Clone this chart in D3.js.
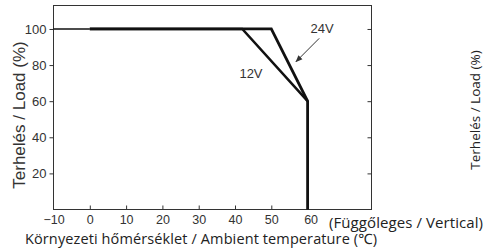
<!DOCTYPE html>
<html><head><meta charset="utf-8">
<script src="https://cdn.jsdelivr.net/npm/d3@7"></script>
<style>html,body{margin:0;padding:0;background:#fff;overflow:hidden}</style>
</head><body>
<svg id="c" width="485" height="248"></svg>
<script>
const xTicks = [-10, 0, 10, 20, 30, 40, 50, 60];
const xTickLabels = ["\u221210", "0", "10", "20", "30", "40", "50", "60"];
const yTicks = [20, 40, 60, 80, 100];
const baseTemp = [-10, 0];
const baseLoad = [100, 100];
const temp24 = [0, 50, 60, 60];
const load24 = [100, 100, 60, 0];
const temp12 = [0, 42, 60];
const load12 = [100, 100, 60];
const xLabel = "Környezeti hőmérséklet / Ambient temperature (℃)";
const yLabel = "Terhelés / Load (%)";
const orientNote = "(Függőleges / Vertical)";

const svg = d3.select("#c");
const L = 53.5, R = 371.5, T = 5.5, B = 209.5;
const x = d3.scaleLinear().domain([-10, 77.6]).range([L, R]);
const y = d3.scaleLinear().domain([0, 113]).range([B, T]);
const axisCol = "#333";
const tickFont = "'Liberation Sans', Arial, sans-serif";
const labFont = "'Open Sans', 'Noto Sans', sans-serif";

// frame
svg.append("rect").attr("x", L).attr("y", T).attr("width", R - L).attr("height", B - T)
  .attr("fill", "none").attr("stroke", axisCol).attr("stroke-width", 1);

// left axis (outward ticks)
const gl = svg.append("g").attr("transform", `translate(${L},0)`)
  .call(d3.axisLeft(y).tickValues(yTicks).tickSize(4).tickPadding(3));
// right axis (inward ticks)
const gr = svg.append("g").attr("transform", `translate(${R},0)`)
  .call(d3.axisLeft(y).tickValues(yTicks).tickSize(4).tickFormat(""));
// bottom axis (inward ticks)
const gb = svg.append("g").attr("transform", `translate(0,${B})`)
  .call(d3.axisTop(x).tickValues(xTicks.filter(v => v > -10)).tickSize(4).tickFormat(""));
const gbl = svg.append("g").attr("transform", `translate(0,${B})`)
  .call(d3.axisBottom(x).tickValues(xTicks).tickSize(0).tickPadding(6)
    .tickFormat((d, i) => xTickLabels[i]));
[gl, gr, gb, gbl].forEach(g => {
  g.select(".domain").remove();
  g.selectAll("line").attr("stroke", axisCol);
  g.selectAll("text").attr("font-family", tickFont).attr("font-size", 13).attr("fill", "#333");
});
gbl.selectAll("text").attr("font-size", 12.5);
gbl.selectAll("text").filter(d => d === 60).attr("dx", 3);

const line = d3.line().x(d => x(d[0])).y(d => y(d[1]));
svg.append("path").datum(d3.zip(baseTemp, baseLoad)).attr("d", line)
  .attr("fill", "none").attr("stroke", "#111").attr("stroke-width", 1.5);
svg.append("path").datum(d3.zip(temp12, load12)).attr("d", line)
  .attr("fill", "none").attr("stroke", "#111").attr("stroke-width", 2.5).attr("stroke-linejoin", "miter");
svg.append("path").datum(d3.zip(temp24, load24)).attr("d", line)
  .attr("fill", "none").attr("stroke", "#111").attr("stroke-width", 2.8).attr("stroke-linejoin", "miter");

// annotations
svg.append("text").attr("x", x(64)).attr("y", y(97.5)).attr("text-anchor", "middle")
  .attr("font-family", tickFont).attr("font-size", 13).attr("fill", "#333").text("24V");
svg.append("text").attr("x", x(44.4)).attr("y", y(73)).attr("text-anchor", "middle")
  .attr("font-family", tickFont).attr("font-size", 13).attr("fill", "#333").text("12V");
svg.append("defs").append("marker").attr("id", "ah").attr("viewBox", "0 0 10 10")
  .attr("refX", 9).attr("refY", 5).attr("markerWidth", 7).attr("markerHeight", 7)
  .attr("orient", "auto").attr("markerUnits", "userSpaceOnUse")
  .append("path").attr("d", "M0,1 L10,5 L0,9 Z").attr("fill", "#333");
svg.append("line").attr("x1", x(63.2)).attr("y1", y(94.8)).attr("x2", x(56.8)).attr("y2", y(81.9))
  .attr("stroke", "#333").attr("stroke-width", 1).attr("marker-end", "url(#ah)");

// axis titles
svg.append("text").attr("transform", `translate(25,115) rotate(-90)`)
  .attr("text-anchor", "middle").attr("font-family", tickFont).attr("font-size", 17)
  .attr("fill", "#333").text(yLabel);
svg.append("text").attr("x", 201).attr("y", 243.5).attr("text-anchor", "middle")
  .attr("font-family", labFont).attr("font-size", 14.5)
  .attr("textLength", 352).attr("lengthAdjust", "spacing")
  .attr("fill", "#222").text(xLabel);
svg.append("text").attr("x", 329).attr("y", 228).attr("font-family", labFont)
  .attr("font-size", 15).attr("textLength", 154).attr("lengthAdjust", "spacing")
  .attr("fill", "#222").text(orientNote);
// partial neighbouring chart title
svg.append("text").attr("transform", `translate(480,110) rotate(-90)`)
  .attr("text-anchor", "middle").attr("font-family", labFont).attr("font-size", 13.5)
  .attr("fill", "#222").text(yLabel);
</script>
</body></html>
